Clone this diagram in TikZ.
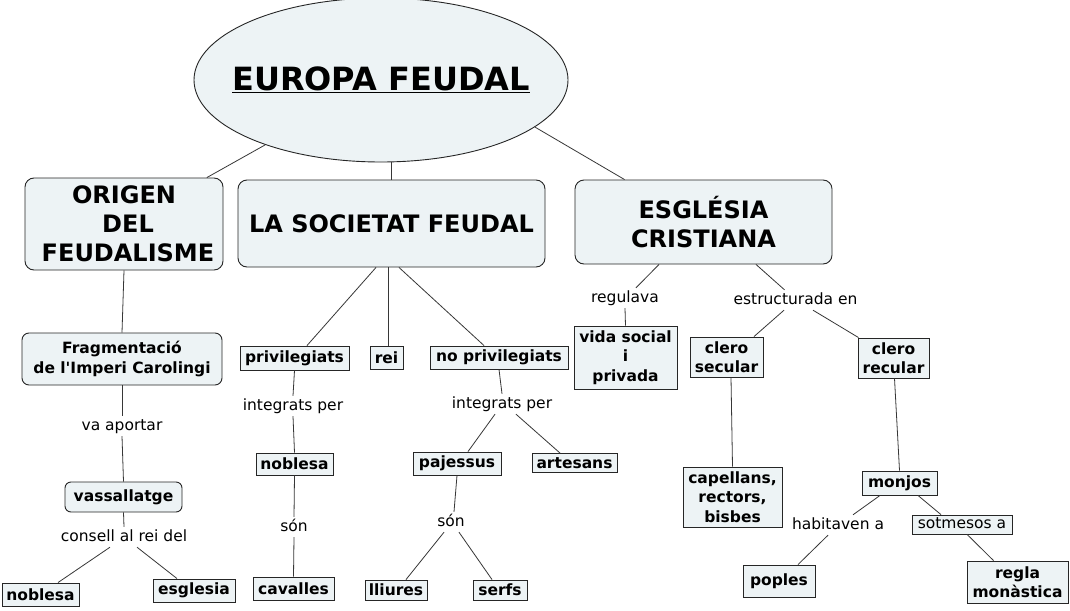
\documentclass[tikz,border=0pt]{standalone}
\usepackage{fontspec}
\setmainfont{DejaVu Sans}
\usepackage{tikz}
\usetikzlibrary{shapes}
\definecolor{cmapfill}{RGB}{237,243,245}
\definecolor{cmapline}{RGB}{55,55,55}
\newcommand\lblfont{\fontsize{15.5}{19}\selectfont}
\newcommand\cptfont{\bfseries\fontsize{15.5}{19.5}\selectfont}
\newcommand\headfont{\bfseries\fontsize{24}{29}\selectfont}
\tikzstyle{concept}=[draw=black!85,fill=cmapfill,line width=0.9pt,inner sep=0pt,align=center,font=\cptfont]
\tikzstyle{roundconcept}=[concept,rounded corners=7pt]
\tikzstyle{headconcept}=[roundconcept,rounded corners=9pt,font=\headfont]
\tikzstyle{linkphrase}=[inner sep=0pt,text height=11pt,text depth=3pt,minimum height=20pt,font=\lblfont]
\tikzstyle{linkbox}=[linkphrase,draw=black!85,fill=cmapfill,line width=0.7pt]
\tikzstyle{connector}=[draw=cmapline,line width=0.8pt]

\begin{document}
\begin{tikzpicture}[x=1pt,y=-1pt]
        \useasboundingbox[fill=white] (0,0) rectangle (1070,610);
        \node (eu) at (381,80) [ellipse,draw=black!85,fill=cmapfill,line width=0.9pt,inner sep=0pt,minimum width=374pt,minimum height=164pt,font=\bfseries\fontsize{32}{38}\selectfont] {\makebox[0pt]{\underline{EUROPA FEUDAL}}};
        \node (orig) at (124,224) [headconcept,minimum width=198pt,minimum height=92pt] {ORIGEN\\\hspace*{8pt}DEL\\\hspace*{8pt}FEUDALISME};
        \node (soc) at (391.5,223.5) [headconcept,minimum width=307pt,minimum height=87pt] {LA SOCIETAT FEUDAL};
        \node (esg) at (703.5,222) [headconcept,minimum width=257pt,minimum height=84pt] {ESGLÉSIA\\CRISTIANA};
        % origen del feudalisme
        \node (frag) at (122,359) [roundconcept,minimum width=200pt,minimum height=52pt] {Fragmentació\\de l\textquotesingle Imperi Carolingi};
        \node (vaaport) at (122,426) [linkphrase] {va aportar};
        \node (vass) at (123.5,497) [roundconcept,rounded corners=6pt,minimum width=117pt,minimum height=30pt] {vassallatge};
        \node (consell) at (124,537) [linkphrase] {consell al rei del};
        \node (noblesaA) at (40.5,594.5) [concept,minimum width=77pt,minimum height=23pt] {noblesa};
        \node (esglesia) at (194,590.5) [concept,minimum width=82pt,minimum height=23pt] {esglesia};
        % la societat feudal
        \node (priv) at (294.5,358) [concept,minimum width=109pt,minimum height=24pt] {privilegiats};
        \node (rei) at (386.5,357.5) [concept,minimum width=33pt,minimum height=23pt] {rei};
        \node (nopriv) at (499,357.5) [concept,minimum width=138pt,minimum height=23pt] {no privilegiats};
        \node (intA) at (293,406) [linkphrase] {integrats per};
        \node (noblesaB) at (294.5,464) [concept,minimum width=77pt,minimum height=22pt] {noblesa};
        \node (sonA) at (294,527) [linkphrase] {són};
        \node (cav) at (293.5,588.5) [concept,minimum width=81pt,minimum height=23pt] {cavalles};
        \node (intB) at (502,404) [linkphrase] {integrats per};
        \node (paj) at (457,463.5) [concept,minimum width=88pt,minimum height=23pt] {pajessus};
        \node (art) at (574.5,463) [concept,minimum width=85pt,minimum height=19pt] {artesans};
        \node (sonB) at (451,522) [linkphrase] {són};
        \node (lli) at (396,590) [concept,minimum width=62pt,minimum height=20pt] {lliures};
        \node (serfs) at (500,590) [concept,minimum width=54pt,minimum height=20pt] {serfs};
        % esglesia cristiana
        \node (regul) at (625,298) [linkphrase] {regulava};
        \node (vida) at (625.5,357.5) [concept,minimum width=103pt,minimum height=63pt] {vida social\\i\\privada};
        \node (estruct) at (795.5,300) [linkphrase] {estructurada en};
        \node (csec) at (726.5,357) [concept,minimum width=73pt,minimum height=40pt] {clero\\secular};
        \node (crec) at (893.5,358) [concept,minimum width=71pt,minimum height=40pt] {clero\\recular};
        \node (capell) at (732.5,497) [concept,minimum width=99pt,minimum height=60pt] {capellans,\\rectors,\\bisbes};
        \node (monjos) at (899.5,483) [concept,minimum width=75pt,minimum height=24pt] {monjos};
        \node (habit) at (838,525) [linkphrase] {habitaven a};
        \node (sotm) at (962,524.5) [linkbox,minimum width=100pt,minimum height=19pt] {sotmesos a};
        \node (poples) at (779,581) [concept,minimum width=72pt,minimum height=32pt] {poples};
        \node (regla) at (1017.5,582) [concept,minimum width=101pt,minimum height=42pt] {regla\\monàstica};

        \draw[connector] (eu) -- (orig);
        \draw[connector] (soc.north |- eu.south) -- (soc.north);
        \draw[connector] (eu.343) -- ([xshift=50pt]esg.north west);
        \draw[connector] (orig.south) -- (frag.north);
        \draw[connector] (frag.south) -- (vaaport.north);
        \draw[connector] (vaaport.south) -- (vass.north);
        \draw[connector] (vass.south) -- (consell.north);
        \draw[connector] ([xshift=-14pt]consell.south) -- ([xshift=17.5pt]noblesaA.north);
        \draw[connector] ([xshift=13pt]consell.south) -- ([xshift=-17pt]esglesia.north);
        \draw[connector] ([xshift=-15.5pt]soc.south) -- ([xshift=12.5pt]priv.north);
        \draw[connector] ([xshift=-3.5pt]soc.south) -- ([xshift=1.5pt]rei.north);
        \draw[connector] ([xshift=7.5pt]soc.south) -- ([xshift=-15pt]nopriv.north);
        \draw[connector] (priv.south) -- (intA.north);
        \draw[connector] (intA.south) -- (noblesaB.north);
        \draw[connector] (noblesaB.south) -- (sonA.north);
        \draw[connector] (sonA.south) -- (cav.north);
        \draw[connector] (nopriv.south) -- (intB.north);
        \draw[connector] ([xshift=-7pt]intB.south) -- ([xshift=11pt]paj.north);
        \draw[connector] ([xshift=14pt]intB.south) -- ([xshift=-14.5pt]art.north);
        \draw[connector] (paj.south) -- ([xshift=3pt]sonB.north);
        \draw[connector] ([xshift=-7pt]sonB.south) -- ([xshift=10pt]lli.north);
        \draw[connector] ([xshift=8pt]sonB.south) -- ([xshift=-8pt]serfs.north);
        \draw[connector] ([xshift=-44.5pt]esg.south) -- ([xshift=11pt]regul.north);
        \draw[connector] (regul.south) -- (vida.north);
        \draw[connector] ([xshift=52.5pt]esg.south) -- ([xshift=-11pt]estruct.north);
        \draw[connector] ([xshift=-11.5pt]estruct.south) -- ([xshift=27.5pt]csec.north);
        \draw[connector] ([xshift=17.5pt]estruct.south) -- ([xshift=-35pt]crec.north);
        \draw[connector] ([xshift=4.5pt]csec.south) -- (capell.north);
        \draw[connector] ([xshift=1pt]crec.south) -- (monjos.north);
        \draw[connector] ([xshift=-19.5pt]monjos.south) -- ([xshift=15pt]habit.north);
        \draw[connector] ([xshift=18.5pt]monjos.south) -- ([xshift=-21pt]sotm.north);
        \draw[connector] ([xshift=-10pt]habit.south) -- ([xshift=19pt]poples.north);
        \draw[connector] ([xshift=5pt]sotm.south) -- ([xshift=-24pt]regla.north);
      \end{tikzpicture}
\end{document}
